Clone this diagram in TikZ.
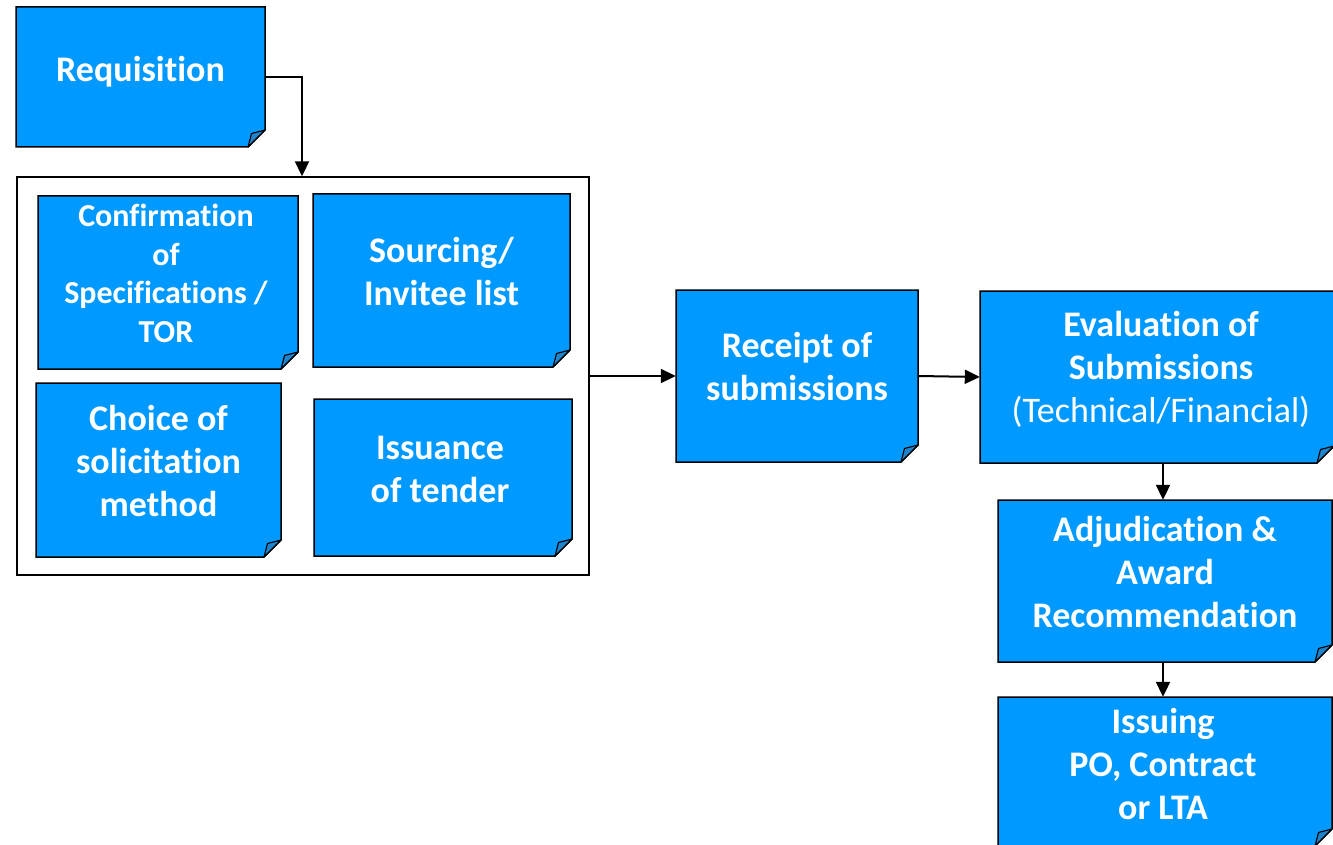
\documentclass[tikz,border=0pt]{standalone}
\usepackage{fontspec}
\setmainfont{Carlito}[Ligatures=NoCommon]
\usetikzlibrary{arrows.meta,calc}
\definecolor{notefill}{HTML}{0099FF}
\definecolor{foldfill}{HTML}{1E84CC}
\tikzset{
  notetext/.style={text=white,font=\bfseries\fontsize{36}{43}\selectfont,align=center,inner sep=0pt},
  smalltext/.style={text=white,font=\bfseries\fontsize{32}{38.5}\selectfont,align=center,inner sep=0pt},
  flow/.style={line width=2pt,-{Triangle[length=15pt,width=14pt]}},
  groupbox/.style={draw=black,line width=1.4pt,fill=white,inner sep=0pt}
}
\newcommand\notebox[7]{%
  \filldraw[fill=notefill,draw=black,line width=1.5pt,line join=miter] (#2,#3) -- (#4,#3) -- (#4,#5-17) -- (#4-17,#5) -- (#2,#5) -- cycle;
  \filldraw[fill=foldfill,draw=black,line width=1.1pt,line join=round] (#4,#5-17) -- (#4-13.5,#5-13.5) -- (#4-17,#5) -- cycle;
  \node[inner sep=0pt,minimum width={#4-#2},minimum height={#5-#3}] (#1) at ({(#2+#4)/2},{(#3+#5)/2}) {};
  \node[#6] (#1-t) at ($(#1.center)+(0,-8)$) {#7};
}
\begin{document}
\begin{tikzpicture}[x=1pt,y=-1pt]
\useasboundingbox (0,0) rectangle (1333,845);
\clip (0,0) rectangle (1333,845);
\fill[white] (0,0) rectangle (1333,845);
% group container
\node[groupbox,minimum width=572pt,minimum height=398pt] (group) at (303,376) {};
\notebox{req}{16}{7}{265}{147}{notetext,yshift=-3pt}{Requisition}
\notebox{conf}{38}{196}{298}{369}{smalltext,xshift=-2pt,yshift=1pt}{Confirmation\\of\\Specifications /\\TOR}
\notebox{src}{313}{194}{570}{367}{notetext,yshift=1pt}{Sourcing/\\Invitee list}
\notebox{choice}{36}{383}{281}{557}{notetext,yshift=1pt}{Choice of\\solicitation\\method}
\notebox{iss}{314}{399}{572}{556}{notetext,xshift=-3pt}{Issuance\\of tender}
\notebox{rec}{676}{290}{918}{462}{notetext,yshift=2pt}{Receipt of\\submissions}
\notebox{eval}{980}{291}{1334}{463}{notetext,xshift=4pt}{Evaluation of\\Submissions\\{\mdseries(Technical/Financial)}}
\notebox{adj}{998}{500}{1332}{662}{notetext,yshift=1pt}{Adjudication \&\\Award\\Recommendation}
\notebox{po}{998}{697}{1332}{846}{notetext,xshift=-2pt}{Issuing\\PO, Contract\\or LTA}
% connectors
\draw[flow] (req.east) -| (group.north -| 302,0);
\draw[flow] (group.east) -- (rec.west);
\draw[flow] (rec.east) -- (eval.west);
\draw[flow] (eval.south -| 1163,0) -- (adj.north -| 1163,0);
\draw[flow] (adj.south -| 1163,0) -- (po.north -| 1163,0);
\end{tikzpicture}
\end{document}
